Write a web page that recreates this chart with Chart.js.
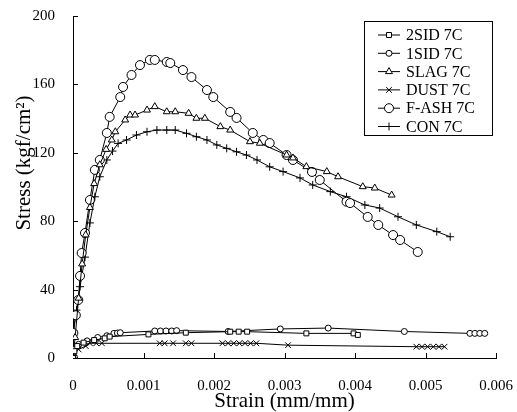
<!DOCTYPE html>
<html>
<head>
<meta charset="utf-8">
<script src="https://cdn.jsdelivr.net/npm/chart.js@4.4.1/dist/chart.umd.min.js"></script>
<style>
  html, body { margin: 0; padding: 0; background: #fff; }
</style>
</head>
<body>
<canvas id="grafica" width="517" height="412"></canvas>
<script>
// strain (mm/mm), stress (kgf/cm2) pairs
const sid2 = [[0,0],[0.00002,4],[0.00006,7],[0.00015,9],[0.0003,10.5],[0.00045,11.5],[0.00052,12.5],[0.00107,13.8],[0.0016,14.8],[0.00223,15.4],[0.00235,15.4],[0.00247,15.4],[0.00331,14.4],[0.00398,14.4],[0.00404,13.5]];
const sid1 = [[0,0],[0.00002,5],[0.00008,8],[0.0002,10],[0.00035,12],[0.00048,13],[0.00058,14.4],[0.00063,14.6],[0.00067,14.8],[0.00116,15.8],[0.00124,15.8],[0.00132,15.8],[0.0014,15.8],[0.00147,16],[0.0022,15.5],[0.00294,17],[0.00362,17.5],[0.0047,15.5],[0.00563,14.4],[0.0057,14.4],[0.00577,14.4],[0.00584,14.4]];
const slag = [[0,0],[0.00003,12],[0.00008,35],[0.00013,55],[0.00018,72],[0.00024,88],[0.0003,102],[0.00038,113],[0.00047,122],[0.00055,127.5],[0.0006,132.3],[0.00074,139.2],[0.00081,142.1],[0.00088,142.1],[0.00105,145],[0.00116,147],[0.00133,144],[0.00145,144],[0.00164,143.1],[0.00175,140.2],[0.00187,140.2],[0.00209,135.3],[0.00223,133.3],[0.00251,126.5],[0.00265,125.6],[0.00303,118.7],[0.00312,117],[0.00331,111.9],[0.0036,109],[0.00376,106],[0.00411,100.2],[0.00428,99.4],[0.00452,95.3]];
const dust = [[0,0],[0.00002,3],[0.00008,5],[0.00018,7],[0.00024,8.6],[0.00033,8.6],[0.00041,8.6],[0.00123,8.6],[0.0013,8.6],[0.00142,8.6],[0.0016,8.6],[0.00168,8.6],[0.00212,8.6],[0.0022,8.6],[0.00228,8.6],[0.00236,8.6],[0.00244,8.6],[0.00252,8.6],[0.0026,8.6],[0.00305,7.5],[0.00487,6.6],[0.00495,6.6],[0.00503,6.6],[0.00511,6.6],[0.00519,6.6],[0.00527,6.6]];
const fAsh = [[0,0],[0.000005,14.6],[0.00004,25],[0.000075,33.9],[0.0001,48],[0.000123,61.4],[0.00017,73.1],[0.00024,92.4],[0.00031,110],[0.00038,115.8],[0.00048,131.6],[0.00052,141],[0.00067,152.6],[0.00071,158.5],[0.00083,165.5],[0.00095,171.3],[0.00109,174.3],[0.00116,174.3],[0.00133,173.1],[0.00138,172.5],[0.00156,168.4],[0.00168,164.3],[0.0019,156.7],[0.00199,152.6],[0.00223,143.9],[0.00232,140.4],[0.00255,131.6],[0.0027,127.5],[0.00279,125.7],[0.00303,118.7],[0.00312,115.8],[0.00339,108.8],[0.0035,104.1],[0.00388,91.4],[0.00393,90.6],[0.00418,82.5],[0.00433,77.8],[0.00454,71.9],[0.00464,69],[0.00489,62]];
const con  = [[0,0],[0.000005,16],[0.00005,28],[0.0001,41.7],[0.00017,59],[0.00024,79],[0.00031,94.3],[0.00038,106],[0.00048,115.8],[0.00056,121],[0.00064,125.5],[0.00076,127.5],[0.0009,130.4],[0.00105,132.3],[0.00119,133.3],[0.00133,133.3],[0.00145,133.3],[0.00161,131.4],[0.00175,129.4],[0.0019,127.5],[0.00204,124.6],[0.00218,122.6],[0.00232,120.6],[0.00246,118.7],[0.00261,115.8],[0.00279,111.8],[0.00298,109],[0.00322,105.3],[0.0034,101.2],[0.00365,97.3],[0.00388,94.3],[0.00414,89.5],[0.00435,87.7],[0.00461,82.6],[0.00487,77.8],[0.00516,73.9],[0.00535,70.9]];

const nombres  = ["2SID 7C", "1SID 7C", "SLAG 7C", "DUST 7C", "F-ASH 7C", "CON 7C"];
const series   = [sid2, sid1, slag, dust, fAsh, con];
const estilos  = ["rect", "circle", "triangle", "crossRot", "circle", "cross"];
const radios   = [3.5, 3, 4, 4, 4.5, 4];

const yTitulo  = "Stress (kgf/cm²)";
const xTitulo  = "Strain (mm/mm)";
const SERIF    = "'Liberation Serif', 'DejaVu Serif', serif";

const marcasInternas = {
  id: "marcasInternas",
  afterDraw(chart) {
    const { ctx, scales: { x, y } } = chart;
    ctx.save();
    ctx.strokeStyle = "#000";
    ctx.lineWidth = 1;
    // ticks pointing inward
    ctx.beginPath();
    x.ticks.forEach(t => {
      if (t.value === 0) return;
      const px = Math.round(x.getPixelForValue(t.value)) + 0.5;
      ctx.moveTo(px, y.bottom);
      ctx.lineTo(px, y.bottom - 5);
    });
    y.ticks.forEach(t => {
      if (t.value === 0) return;
      const py = Math.round(y.getPixelForValue(t.value)) + 0.5;
      ctx.moveTo(x.left, py);
      ctx.lineTo(x.left + 5, py);
    });
    ctx.stroke();

    // y title (sits above centre in the original)
    ctx.fillStyle = "#000";
    ctx.font = "21px " + SERIF;
    ctx.textAlign = "center";
    ctx.textBaseline = "middle";
    ctx.translate(24, 163);
    ctx.rotate(-Math.PI / 2);
    ctx.fillText(yTitulo, 0, 0);
    ctx.restore();

    // legend box
    ctx.save();
    const bx = 364, by = 21, bw = 128, bh = 114;
    ctx.strokeStyle = "#000";
    ctx.lineWidth = 1;
    ctx.strokeRect(bx + 0.5, by + 0.5, bw, bh);
    ctx.font = "16px " + SERIF;
    ctx.textBaseline = "middle";
    ctx.textAlign = "left";
    nombres.forEach((n, i) => {
      const cy = by + 14 + i * 18.3;
      ctx.beginPath();
      ctx.moveTo(378, cy);
      ctx.lineTo(400, cy);
      ctx.stroke();
      ctx.fillStyle = "#fff";
      Chart.helpers.drawPoint(ctx, { pointStyle: estilos[i], radius: radios[i], rotation: 0, borderWidth: 1 }, 389, cy);
      ctx.fillStyle = "#000";
      ctx.fillText(n, 406, cy + 1);
    });
    ctx.restore();
  }
};

new Chart(document.getElementById("grafica"), {
  type: "scatter",
  data: {
    datasets: series.map((s, i) => ({
      label: nombres[i],
      data: s.map(([a, b]) => ({ x: a, y: b })),
      showLine: true,
      borderColor: "#000",
      borderWidth: 1,
      backgroundColor: "#fff",
      pointStyle: estilos[i],
      pointRadius: radios[i],
      pointBorderColor: "#000",
      pointBackgroundColor: "#fff",
      pointBorderWidth: 1,
      tension: 0
    }))
  },
  options: {
    responsive: false,
    animation: false,
    layout: { padding: 0 },
    plugins: { legend: { display: false }, tooltip: { enabled: false } },
    scales: {
      x: {
        type: "linear",
        min: 0, max: 0.006,
        afterFit: s => { s.height = 54; s.paddingRight = 21; s.paddingLeft = 0; },
        grid: { display: false },
        border: { display: true, color: "#000", width: 1 },
        ticks: {
          stepSize: 0.001,
          padding: 11,
          color: "#000",
          font: { family: SERIF, size: 15 },
          maxRotation: 0,
          callback: v => v === 0 ? "0" : v.toFixed(3)
        },
        title: {
          display: true,
          text: xTitulo,
          color: "#000",
          font: { family: SERIF, size: 21, lineHeight: 1.0 },
          padding: { top: 0, bottom: 0 }
        }
      },
      y: {
        min: 0, max: 200,
        afterFit: s => { s.width = 73; s.paddingTop = 16; s.paddingBottom = 0; },
        grid: { display: false },
        border: { display: true, color: "#000", width: 1 },
        ticks: {
          stepSize: 40,
          padding: 10,
          color: "#000",
          font: { family: SERIF, size: 15 }
        }
      }
    }
  },
  plugins: [marcasInternas]
});
</script>
</body>
</html>
